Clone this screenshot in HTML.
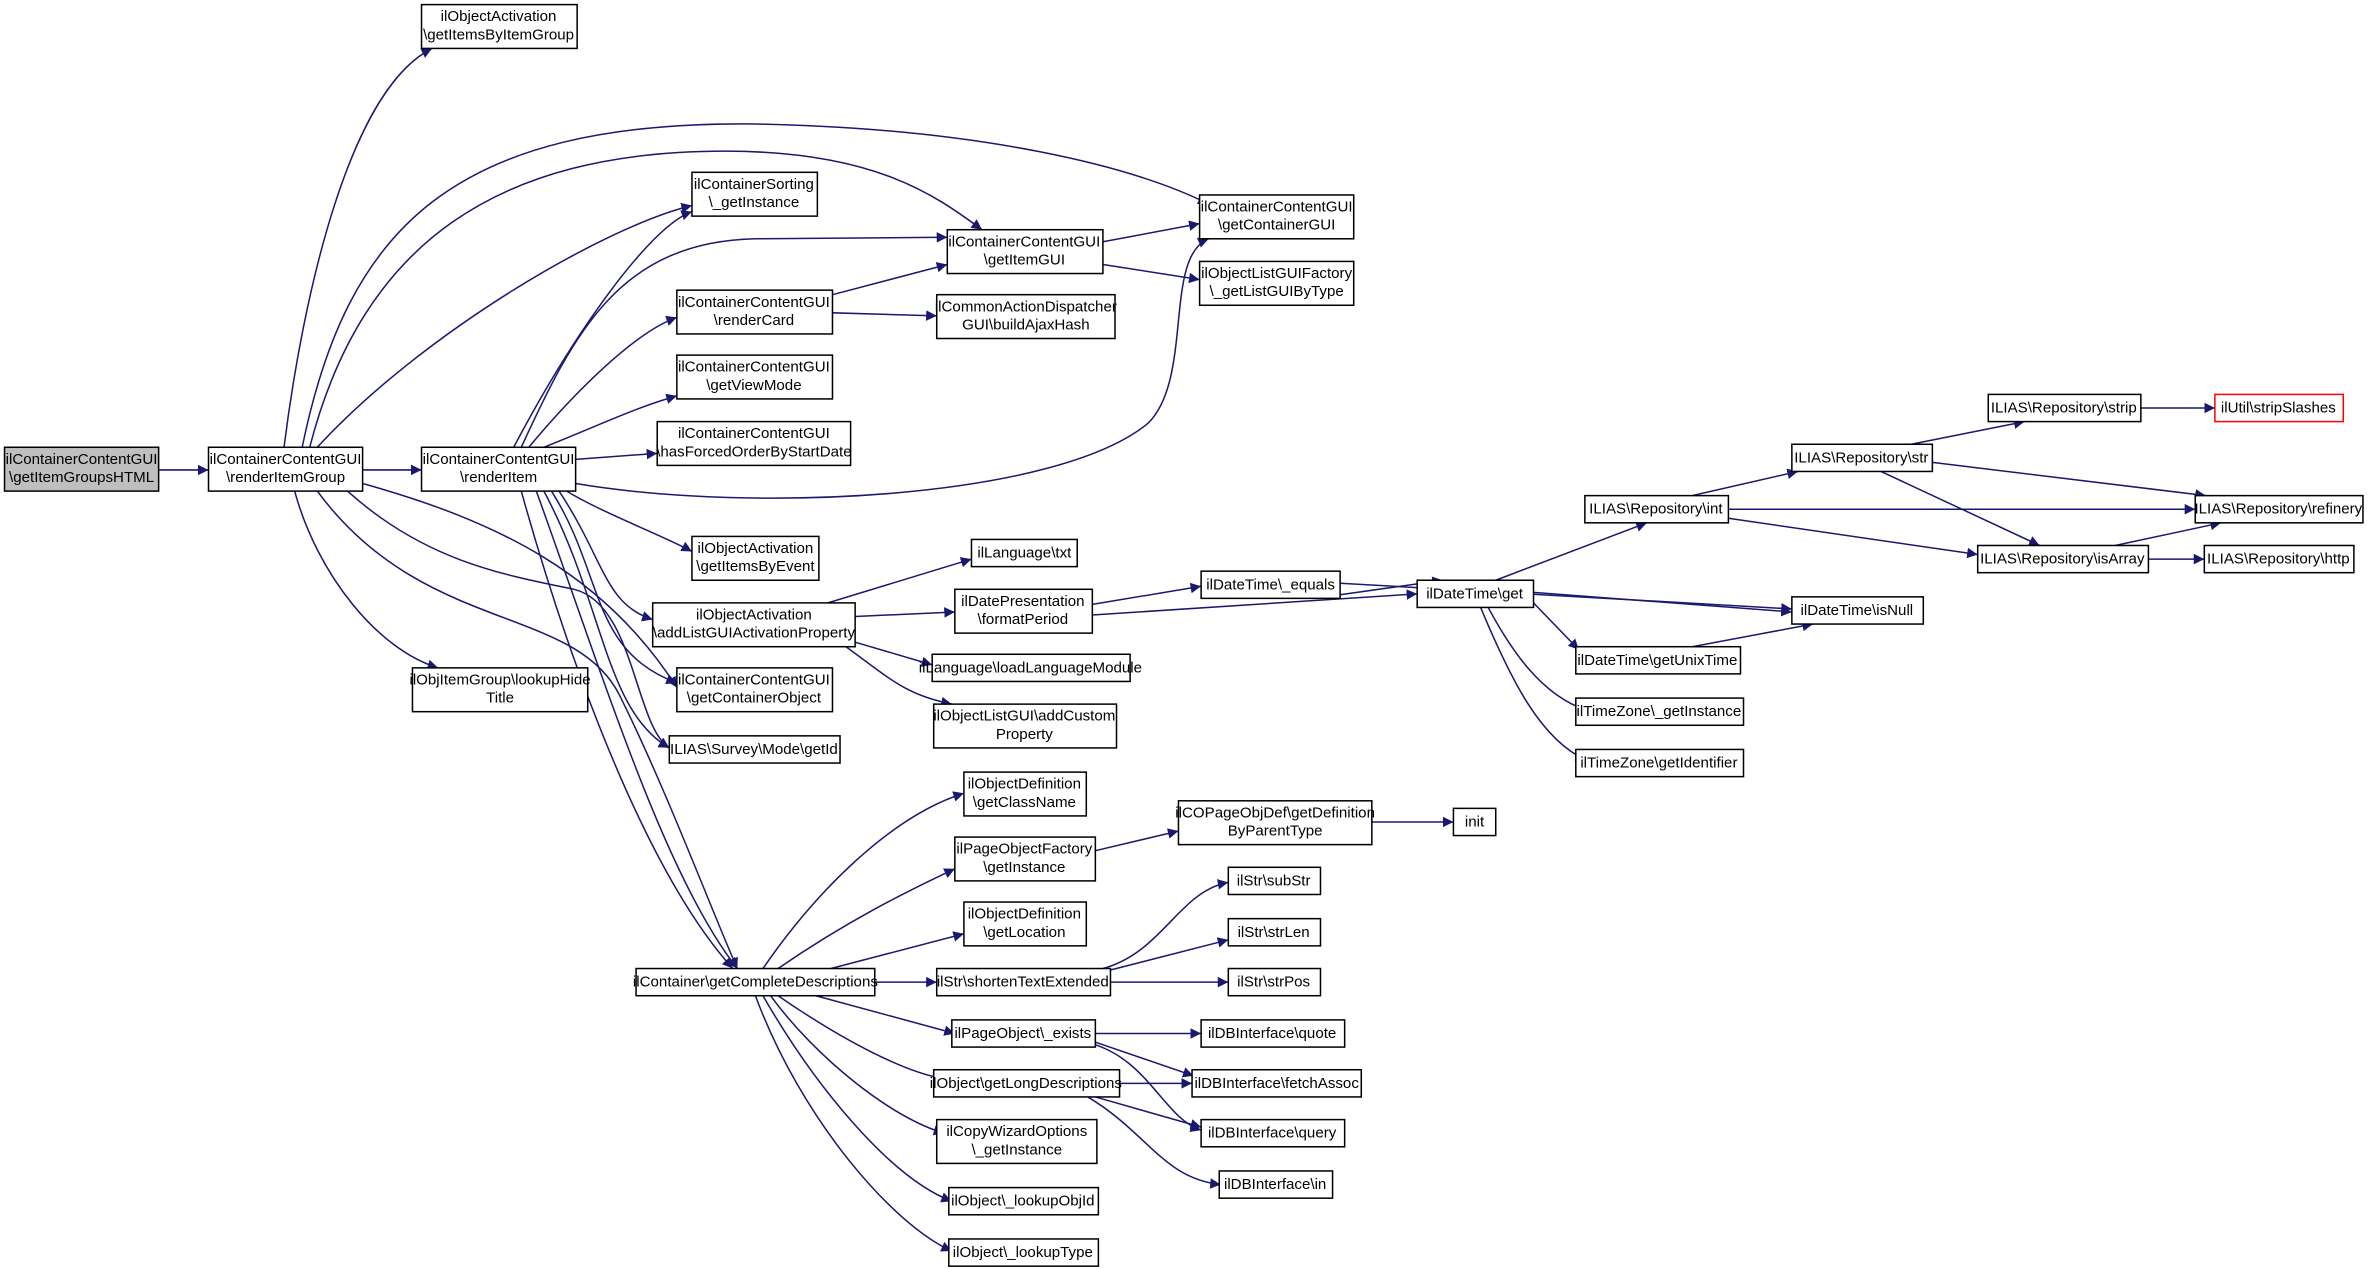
<!DOCTYPE html>
<html><head><meta charset="utf-8"><style>
html,body{margin:0;padding:0;background:#fff;}
svg{display:block;}
text{font-family:"Liberation Sans",Helvetica,sans-serif;font-size:10px;fill:#000;text-anchor:middle;}
.n{fill:#fff;stroke:#000;stroke-width:1;}
.e{fill:none;stroke:#191970;stroke-width:1;marker-end:url(#a);}
</style></head><body>
<svg width="2369" height="1270" viewBox="0 0 1568 840.5" xmlns="http://www.w3.org/2000/svg">
<defs><marker id="a" viewBox="0 0 10 10" refX="10" refY="5" markerWidth="7" markerHeight="7" orient="auto" markerUnits="userSpaceOnUse"><path d="M0,0 L10,5 L0,10 z" fill="#191970"/></marker></defs>
<g>
<path class="e" d="M105,311 L138,311"/>
<path class="e" d="M240,311 L279,311"/>
<path class="e" d="M188,296 C200,200 230,60 286,32"/>
<path class="e" d="M200,296 C230,150 300,80 500,82 C650,85 750,110 800,135"/>
<path class="e" d="M205,296 C240,160 330,100 480,100 C580,100 620,130 650,152"/>
<path class="e" d="M210,296 C280,220 400,150 458,136"/>
<path class="e" d="M240,320 C330,345 400,380 448,455"/>
<path class="e" d="M230,325 C280,370 330,380 380,390 C420,400 420,480 443,495"/>
<path class="e" d="M195,325 C210,380 250,430 290,442"/>
<path class="e" d="M210,325 C280,420 380,400 410,460 C440,520 470,600 488,641"/>
<path class="e" d="M340,296 C380,220 430,150 458,140"/>
<path class="e" d="M345,296 C380,220 410,160 500,158 L627,157"/>
<path class="e" d="M350,296 C380,260 420,220 448,210"/>
<path class="e" d="M360,296 C400,280 420,270 448,262"/>
<path class="e" d="M381,304 L435,300"/>
<path class="e" d="M381,320 C500,340 700,330 760,280 C790,250 770,170 800,158"/>
<path class="e" d="M375,325 C400,340 440,355 458,365"/>
<path class="e" d="M370,325 C400,370 400,400 432,410"/>
<path class="e" d="M365,325 C400,380 390,430 448,452"/>
<path class="e" d="M360,325 C400,400 400,470 443,495"/>
<path class="e" d="M355,325 C400,450 440,580 488,641"/>
<path class="e" d="M345,325 C380,450 430,580 485,641"/>
<path class="e" d="M730,160 L794,148"/>
<path class="e" d="M730,175 L794,185"/>
<path class="e" d="M551,195 L627,175"/>
<path class="e" d="M551,207 L620,209"/>
<path class="e" d="M548,399 L643,370"/>
<path class="e" d="M566,408 L632,405"/>
<path class="e" d="M566,425 L617,440"/>
<path class="e" d="M560,428 C590,450 600,460 630,466"/>
<path class="e" d="M723,400 L795,388"/>
<path class="e" d="M723,407 L938,393"/>
<path class="e" d="M870,396 L955,384"/>
<path class="e" d="M887,386 L1186,403"/>
<path class="e" d="M1015,392 L1186,405"/>
<path class="e" d="M1015,399 L1045,430"/>
<path class="e" d="M985,402 C1000,430 1020,460 1050,470"/>
<path class="e" d="M980,402 C1000,450 1020,490 1050,503"/>
<path class="e" d="M990,384 L1090,346"/>
<path class="e" d="M1120,328 L1190,312"/>
<path class="e" d="M1144,337 L1453,337"/>
<path class="e" d="M1144,343 L1309,367"/>
<path class="e" d="M1265,294 L1340,279"/>
<path class="e" d="M1279,306 L1460,328"/>
<path class="e" d="M1245,312 L1350,361"/>
<path class="e" d="M1417,270 L1466,270"/>
<path class="e" d="M1400,361 L1470,346"/>
<path class="e" d="M1422,370 L1459,370"/>
<path class="e" d="M1120,428 L1200,413"/>
<path class="e" d="M505,641 C540,590 590,540 638,525"/>
<path class="e" d="M515,641 C560,610 600,590 632,575"/>
<path class="e" d="M550,641 L638,618"/>
<path class="e" d="M579,650 L620,650"/>
<path class="e" d="M540,659 L632,684"/>
<path class="e" d="M515,659 C560,690 600,710 625,714"/>
<path class="e" d="M510,659 C540,700 590,740 625,750"/>
<path class="e" d="M505,659 C540,720 590,780 630,795"/>
<path class="e" d="M500,659 C530,740 590,810 630,828"/>
<path class="e" d="M725,563 L780,550"/>
<path class="e" d="M908,544 L962,544"/>
<path class="e" d="M730,641 C770,630 780,590 813,584"/>
<path class="e" d="M735,642 L813,622"/>
<path class="e" d="M735,650 L813,650"/>
<path class="e" d="M725,684 L795,684"/>
<path class="e" d="M720,688 L790,712"/>
<path class="e" d="M720,690 C760,700 770,740 795,748"/>
<path class="e" d="M741,717 L789,717"/>
<path class="e" d="M725,726 L795,746"/>
<path class="e" d="M720,726 C760,750 770,780 808,784"/>
</g>
<g>
<rect x="3" y="296" width="102" height="29" fill="#bfbfbf" stroke="#000"/><text x="54" y="307">ilContainerContentGUI</text><text x="54" y="319">\getItemGroupsHTML</text>
<rect class="n" x="138" y="296" width="102" height="29"/><text x="189" y="307">ilContainerContentGUI</text><text x="189" y="319">\renderItemGroup</text>
<rect class="n" x="279" y="296" width="102" height="29"/><text x="330" y="307">ilContainerContentGUI</text><text x="330" y="319">\renderItem</text>
<rect class="n" x="279" y="3" width="103" height="29"/><text x="330" y="14">ilObjectActivation</text><text x="330" y="26">\getItemsByItemGroup</text>
<rect class="n" x="458" y="114" width="83" height="29"/><text x="499" y="125">ilContainerSorting</text><text x="499" y="137">\_getInstance</text>
<rect class="n" x="627" y="152" width="103" height="29"/><text x="678" y="163">ilContainerContentGUI</text><text x="678" y="175">\getItemGUI</text>
<rect class="n" x="794" y="129" width="102" height="29"/><text x="845" y="140">ilContainerContentGUI</text><text x="845" y="152">\getContainerGUI</text>
<rect class="n" x="794" y="173" width="102" height="29"/><text x="845" y="184">ilObjectListGUIFactory</text><text x="845" y="196">\_getListGUIByType</text>
<rect class="n" x="448" y="192" width="103" height="29"/><text x="499" y="203">ilContainerContentGUI</text><text x="499" y="215">\renderCard</text>
<rect class="n" x="620" y="195" width="118" height="29"/><text x="679" y="206">ilCommonActionDispatcher</text><text x="679" y="218">GUI\buildAjaxHash</text>
<rect class="n" x="448" y="235" width="103" height="29"/><text x="499" y="246">ilContainerContentGUI</text><text x="499" y="258">\getViewMode</text>
<rect class="n" x="435" y="279" width="128" height="29"/><text x="499" y="290">ilContainerContentGUI</text><text x="499" y="302">\hasForcedOrderByStartDate</text>
<rect class="n" x="458" y="355" width="84" height="29"/><text x="500" y="366">ilObjectActivation</text><text x="500" y="378">\getItemsByEvent</text>
<rect class="n" x="432" y="399" width="134" height="29"/><text x="499" y="410">ilObjectActivation</text><text x="499" y="422">\addListGUIActivationProperty</text>
<rect class="n" x="448" y="442" width="103" height="29"/><text x="499" y="453">ilContainerContentGUI</text><text x="499" y="465">\getContainerObject</text>
<rect class="n" x="273" y="442" width="116" height="29"/><text x="331" y="453">ilObjItemGroup\lookupHide</text><text x="331" y="465">Title</text>
<rect class="n" x="443" y="487" width="113" height="18"/><text x="499" y="499">ILIAS\Survey\Mode\getId</text>
<rect class="n" x="643" y="357" width="70" height="18"/><text x="678" y="369">ilLanguage\txt</text>
<rect class="n" x="632" y="390" width="91" height="29"/><text x="677" y="401">ilDatePresentation</text><text x="677" y="413">\formatPeriod</text>
<rect class="n" x="617" y="433" width="131" height="18"/><text x="682" y="445">ilLanguage\loadLanguageModule</text>
<rect class="n" x="618" y="466" width="121" height="29"/><text x="678" y="477">ilObjectListGUI\addCustom</text><text x="678" y="489">Property</text>
<rect class="n" x="795" y="378" width="92" height="18"/><text x="841" y="390">ilDateTime\_equals</text>
<rect class="n" x="938" y="384" width="77" height="18"/><text x="976" y="396">ilDateTime\get</text>
<rect class="n" x="1186" y="395" width="87" height="18"/><text x="1229" y="407">ilDateTime\isNull</text>
<rect class="n" x="1043" y="428" width="109" height="18"/><text x="1097" y="440">ilDateTime\getUnixTime</text>
<rect class="n" x="1043" y="462" width="111" height="18"/><text x="1098" y="474">ilTimeZone\_getInstance</text>
<rect class="n" x="1043" y="496" width="111" height="18"/><text x="1098" y="508">ilTimeZone\getIdentifier</text>
<rect class="n" x="1049" y="328" width="95" height="18"/><text x="1096" y="340">ILIAS\Repository\int</text>
<rect class="n" x="1186" y="294" width="93" height="18"/><text x="1232" y="306">ILIAS\Repository\str</text>
<rect class="n" x="1316" y="261" width="101" height="18"/><text x="1366" y="273">ILIAS\Repository\strip</text>
<rect x="1466" y="261" width="85" height="18" fill="#fff" stroke="#ff0000"/><text x="1508" y="273">ilUtil\stripSlashes</text>
<rect class="n" x="1453" y="328" width="111" height="18"/><text x="1508" y="340">ILIAS\Repository\refinery</text>
<rect class="n" x="1309" y="361" width="113" height="18"/><text x="1365" y="373">ILIAS\Repository\isArray</text>
<rect class="n" x="1459" y="361" width="99" height="18"/><text x="1508" y="373">ILIAS\Repository\http</text>
<rect class="n" x="421" y="641" width="158" height="18"/><text x="500" y="653">ilContainer\getCompleteDescriptions</text>
<rect class="n" x="638" y="511" width="81" height="29"/><text x="678" y="522">ilObjectDefinition</text><text x="678" y="534">\getClassName</text>
<rect class="n" x="632" y="554" width="93" height="29"/><text x="678" y="565">ilPageObjectFactory</text><text x="678" y="577">\getInstance</text>
<rect class="n" x="638" y="597" width="81" height="29"/><text x="678" y="608">ilObjectDefinition</text><text x="678" y="620">\getLocation</text>
<rect class="n" x="620" y="641" width="115" height="18"/><text x="677" y="653">ilStr\shortenTextExtended</text>
<rect class="n" x="630" y="675" width="95" height="18"/><text x="677" y="687">ilPageObject\_exists</text>
<rect class="n" x="618" y="708" width="123" height="18"/><text x="679" y="720">ilObject\getLongDescriptions</text>
<rect class="n" x="620" y="741" width="106" height="29"/><text x="673" y="752">ilCopyWizardOptions</text><text x="673" y="764">\_getInstance</text>
<rect class="n" x="628" y="786" width="99" height="18"/><text x="677" y="798">ilObject\_lookupObjId</text>
<rect class="n" x="628" y="820" width="99" height="18"/><text x="677" y="832">ilObject\_lookupType</text>
<rect class="n" x="780" y="530" width="128" height="29"/><text x="844" y="541">ilCOPageObjDef\getDefinition</text><text x="844" y="553">ByParentType</text>
<rect class="n" x="962" y="535" width="28" height="18"/><text x="976" y="547">init</text>
<rect class="n" x="813" y="574" width="61" height="18"/><text x="843" y="586">ilStr\subStr</text>
<rect class="n" x="813" y="608" width="61" height="18"/><text x="843" y="620">ilStr\strLen</text>
<rect class="n" x="813" y="641" width="61" height="18"/><text x="843" y="653">ilStr\strPos</text>
<rect class="n" x="795" y="675" width="95" height="18"/><text x="842" y="687">ilDBInterface\quote</text>
<rect class="n" x="789" y="708" width="112" height="18"/><text x="845" y="720">ilDBInterface\fetchAssoc</text>
<rect class="n" x="795" y="741" width="95" height="18"/><text x="842" y="753">ilDBInterface\query</text>
<rect class="n" x="807" y="775" width="75" height="18"/><text x="844" y="787">ilDBInterface\in</text>
</g>
</svg>
</body></html>
